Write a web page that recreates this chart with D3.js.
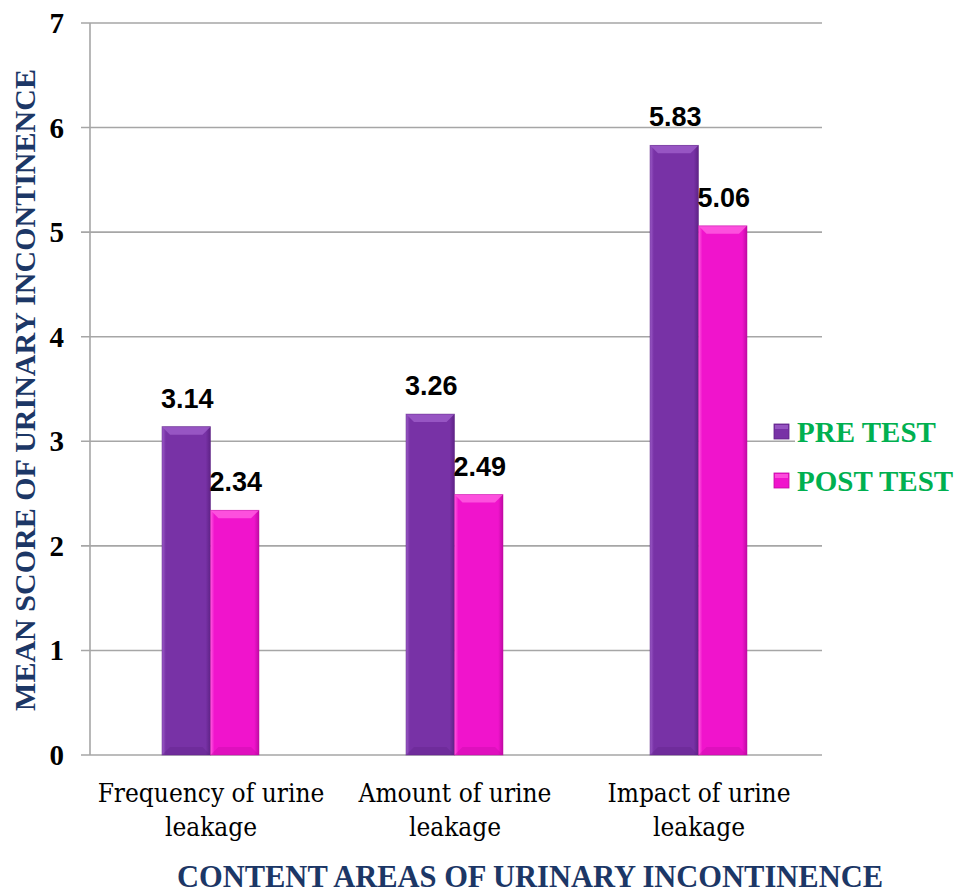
<!DOCTYPE html>
<html><head><meta charset="utf-8">
<script src="https://cdn.jsdelivr.net/npm/d3@7"></script>
<style>body{margin:0;background:#fff}</style>
</head><body>
<svg id="c" width="962" height="894"></svg>
<script>
const categories = [["Frequency of urine","leakage"],["Amount of urine","leakage"],["Impact of urine","leakage"]];
const categoryKeys = ["Frequency","Amount","Impact"];
const seriesNames = ["PRE TEST","POST TEST"];
const preTest = [3.14, 3.26, 5.83];
const postTest = [2.34, 2.49, 5.06];
const yTicks = [0,1,2,3,4,5,6,7];

const SERIF = "'Liberation Serif','Times New Roman',Times,serif";
const SERIF_REG = "'DejaVu Serif Condensed','DejaVu Serif',serif";
const colors = {"PRE TEST":{base:"#7832a6",light:"#9c5cc8",dark:"#5e2286"},
                "POST TEST":{base:"#f014cc",light:"#ff5ae0",dark:"#c00aa4"}};

const svg = d3.select("#c");
const L=90,R=822,T=23,B=755;
const y = d3.scaleLinear().domain([0,7]).range([B,T]);
const x0 = d3.scaleBand().domain(categoryKeys).range([L,R]);
const groupW = 97;
const x1 = d3.scaleBand().domain(seriesNames).range([0,groupW]);
const off = 72;

// gridlines + ticks
svg.append("g").selectAll("line").data(yTicks).join("line")
  .attr("x1",L-9).attr("x2",R).attr("y1",d=>y(d)).attr("y2",d=>y(d))
  .attr("stroke","#a6a6a6").attr("stroke-width",1.6);
svg.append("line").attr("x1",L).attr("x2",L).attr("y1",T).attr("y2",B)
  .attr("stroke","#a6a6a6").attr("stroke-width",1.6);

svg.append("g").selectAll("text").data(yTicks).join("text")
  .attr("x",64).attr("y",d=>y(d)+10).attr("text-anchor","end")
  .style("font-family",SERIF).attr("font-weight","bold").attr("font-size",29)
  .attr("fill","#000").text(d=>d);

// gradients
const defs = svg.append("defs");
seriesNames.forEach((s,i)=>{
  const g = defs.append("linearGradient").attr("id","g"+i).attr("x1","0").attr("x2","1").attr("y1","0").attr("y2","0");
  g.append("stop").attr("offset","0").attr("stop-color",colors[s].light);
  g.append("stop").attr("offset","0.08").attr("stop-color",colors[s].base);
  g.append("stop").attr("offset","0.9").attr("stop-color",colors[s].base);
  g.append("stop").attr("offset","1").attr("stop-color",colors[s].dark);
});

const data = [];
categoryKeys.forEach((c,ci)=>{
  data.push({c, s:"PRE TEST", si:0, v:preTest[ci]});
  data.push({c, s:"POST TEST", si:1, v:postTest[ci]});
});

const bars = svg.append("g").selectAll("g").data(data).join("g");
bars.each(function(d){
  const g = d3.select(this);
  const bx = x0(d.c)+off+x1(d.s), bw = x1.bandwidth(), by = y(d.v), bh = y(0)-y(d.v);
  const b = 8;
  g.append("rect").attr("x",bx).attr("y",by).attr("width",bw).attr("height",bh)
    .attr("fill","url(#g"+d.si+")");
  g.append("polygon").attr("points",[[bx,by],[bx+bw,by],[bx+bw-b,by+b],[bx+b,by+b]].map(p=>p.join(",")).join(" "))
    .attr("fill",colors[d.s].light).attr("opacity",0.85);
  g.append("polygon").attr("points",[[bx,by+bh],[bx+bw,by+bh],[bx+bw-b,by+bh-b],[bx+b,by+bh-b]].map(p=>p.join(",")).join(" "))
    .attr("fill",colors[d.s].dark).attr("opacity",0.35);
  g.append("rect").attr("x",bx).attr("y",by).attr("width",bw).attr("height",bh)
    .attr("fill","none").attr("stroke",colors[d.s].dark).attr("stroke-width",0.8).attr("stroke-opacity",0.6);
  g.append("text").attr("x",bx+bw/2+1).attr("y",by-19).attr("text-anchor","middle")
    .style("font-family","'Liberation Sans',Arial,sans-serif").attr("font-weight","bold").attr("font-size",27)
    .attr("fill","#000").text(d.v.toFixed(2));
});

// category labels
const cl = svg.append("g").selectAll("text").data(categoryKeys).join("text")
  .attr("text-anchor","middle").style("font-family",SERIF_REG).attr("font-size",26).attr("fill","#000");
cl.each(function(d,i){
  const t = d3.select(this);
  categories[i].forEach((line,li)=>{
    t.append("tspan").attr("x",x0(d)+x0.bandwidth()/2-1).attr("y",802+li*34).text(line);
  });
});

// axis titles
svg.append("text").attr("transform","translate(35,390) rotate(-90)").attr("text-anchor","middle")
  .style("font-family",SERIF).attr("font-weight","bold").attr("font-size",30)
  .attr("fill","#1c3766").text("MEAN SCORE OF URINARY INCONTINENCE");
svg.append("text").attr("x",530).attr("y",887).attr("text-anchor","middle")
  .style("font-family",SERIF).attr("font-weight","bold").attr("font-size",30.5)
  .attr("fill","#1c3766").text("CONTENT AREAS OF URINARY INCONTINENCE");

// legend
const lg = svg.append("g").selectAll("g").data(seriesNames).join("g")
  .attr("transform",(d,i)=>`translate(774,${424+i*49})`);
lg.append("rect").attr("x",21).attr("y",-6).attr("width",150).attr("height",30).attr("fill","#fff");
lg.append("rect").attr("width",15).attr("height",15).attr("fill",d=>colors[d].base)
  .attr("stroke",d=>colors[d].dark).attr("stroke-width",0.8);
lg.append("rect").attr("x",1).attr("y",1).attr("width",13).attr("height",4).attr("fill",d=>colors[d].light).attr("opacity",0.8);
lg.append("text").attr("x",23).attr("y",18).style("font-family",SERIF).attr("font-weight","bold")
  .attr("font-size",29).attr("fill","#00b050").text(d=>d);
</script>
</body></html>
